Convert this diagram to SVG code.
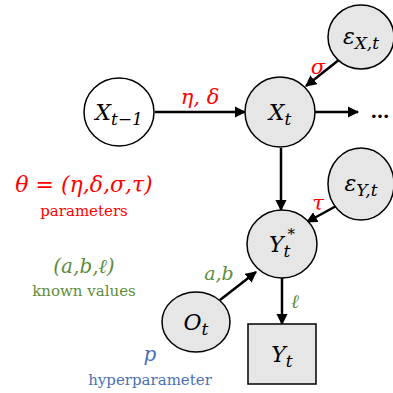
<svg xmlns="http://www.w3.org/2000/svg" width="393" height="393" viewBox="0 0 393 393">
<style>
.n{fill:#e6e6e6;stroke:#000;stroke-width:1.5}
.w{fill:#fff;stroke:#000;stroke-width:1.5}
.e{stroke:#000;stroke-width:2.5;fill:none}
text{font-family:'DejaVu Serif',serif;text-anchor:middle}
.m{font-style:italic;fill:#000}
.r{fill:#ff0000}
.g{fill:#5e8c3c}
.b{fill:#4a6fb5}
</style>
<defs>
<marker id="a" viewBox="0 0 10 10" refX="9" refY="5" markerWidth="4.5" markerHeight="4.5" orient="auto" markerUnits="strokeWidth">
<path d="M0,0L10,5L0,10z" fill="#000"/>
</marker>
</defs>
<g id="connectors">
<line class="e" x1="155" y1="112" x2="245" y2="112" marker-end="url(#a)"/>
<line class="e" x1="315" y1="112" x2="358" y2="112" marker-end="url(#a)"/>
<line class="e" x1="340" y1="59" x2="306" y2="86" marker-end="url(#a)"/>
<line class="e" x1="281" y1="148" x2="281" y2="210" marker-end="url(#a)"/>
<line class="e" x1="338" y1="205" x2="307" y2="222" marker-end="url(#a)"/>
<line class="e" x1="220" y1="300" x2="256" y2="272" marker-end="url(#a)"/>
<line class="e" x1="282" y1="278" x2="282" y2="324" marker-end="url(#a)"/>
<text class="m r" x="200" y="104" font-size="21">η, δ</text>
<text class="m r" x="318" y="74" font-size="21">σ</text>
<text class="m r" x="318" y="210" font-size="21">τ</text>
<text class="m g" x="219" y="280" font-size="19">a,b</text>
<text class="m g" x="295" y="308" font-size="19">ℓ</text>
<text x="380" y="118" font-size="19" font-weight="bold">…</text>
</g>
<g id="X_t-1">
<ellipse class="w" cx="119" cy="112" rx="35" ry="34"/>
<text class="m" x="119" y="120" font-size="22">X<tspan font-size="17" dy="5">t−1</tspan></text>
</g>
<g id="X_t">
<ellipse class="n" cx="280" cy="112" rx="35" ry="35"/>
<text class="m" x="280" y="120" font-size="22">X<tspan font-size="17" dy="5">t</tspan></text>
</g>
<g id="eps_X">
<ellipse class="n" cx="361" cy="37" rx="33" ry="32"/>
<text class="m" x="361" y="44" font-size="22">ε<tspan font-size="17" dy="5">X,t</tspan></text>
</g>
<g id="eps_Y">
<ellipse class="n" cx="361" cy="184" rx="33" ry="36"/>
<text class="m" x="361" y="191" font-size="22">ε<tspan font-size="17" dy="5">Y,t</tspan></text>
</g>
<g id="Ystar">
<ellipse class="n" cx="282" cy="244" rx="35" ry="34"/>
<text class="m" x="282" y="252" font-size="22">Y<tspan font-size="17" dy="5">t</tspan><tspan font-size="15" dx="-3" dy="-18">*</tspan></text>
</g>
<g id="O_t">
<ellipse class="n" cx="196" cy="322" rx="34" ry="30"/>
<text class="m" x="196" y="330" font-size="22">O<tspan font-size="17" dy="5">t</tspan></text>
</g>
<g id="Y_t">
<rect class="n" x="248" y="324" width="68" height="60"/>
<text class="m" x="282" y="362" font-size="22">Y<tspan font-size="17" dy="5">t</tspan></text>
</g>
<g id="legend">
<text class="m r" x="84" y="192" font-size="22">θ = (η,δ,σ,τ)</text>
<text class="r" x="84" y="216" font-size="15">parameters</text>
<text class="m g" x="84" y="273" font-size="20">(a,b,ℓ)</text>
<text class="g" x="84" y="296" font-size="15">known values</text>
<text class="m b" x="150" y="361" font-size="20">p</text>
<text class="b" x="150" y="385" font-size="15">hyperparameter</text>
</g>
</svg>
